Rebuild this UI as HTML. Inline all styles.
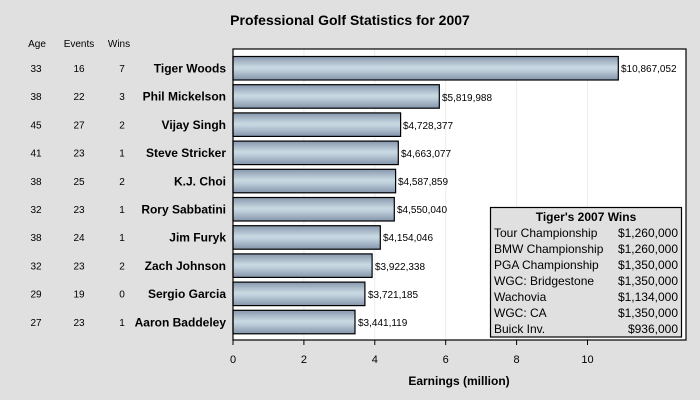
<!DOCTYPE html>
<html><head><meta charset="utf-8"><style>
html,body{margin:0;padding:0;background:#e0e0e0;}
svg{display:block;font-family:"Liberation Sans",Arial,sans-serif;}
</style></head><body>
<svg width="700" height="400" viewBox="0 0 700 400" xmlns="http://www.w3.org/2000/svg">
<defs>
<linearGradient id="g" x1="0" y1="0" x2="0" y2="1">
<stop offset="0" stop-color="#8797ad"/>
<stop offset="0.45" stop-color="#c9d9e2"/>
<stop offset="0.55" stop-color="#c3d3de"/>
<stop offset="1" stop-color="#8595ab"/>
</linearGradient>
</defs>
<rect width="700" height="400" fill="#e0e0e0"/>
<text x="350" y="25" text-anchor="middle" font-size="14" font-weight="bold">Professional Golf Statistics for 2007</text>
<rect x="233" y="49" width="453" height="291" fill="#ffffff"/>
<g stroke="#ececec" stroke-width="1">
<line x1="303.9" y1="49" x2="303.9" y2="340"/><line x1="374.8" y1="49" x2="374.8" y2="340"/>
<line x1="445.7" y1="49" x2="445.7" y2="340"/><line x1="516.6" y1="49" x2="516.6" y2="340"/>
<line x1="587.5" y1="49" x2="587.5" y2="340"/>
</g>
<g font-size="10" fill="#000">
<text x="37" y="47" text-anchor="middle">Age</text>
<text x="79" y="47" text-anchor="middle">Events</text>
<text x="119" y="47" text-anchor="middle">Wins</text>
</g>
<g id="bars" stroke="#000" stroke-width="1.2" fill="url(#g)">
<rect x="233" y="56.5" width="385.3" height="23.5"/>
<rect x="233" y="84.7" width="206.3" height="23.5"/>
<rect x="233" y="112.9" width="167.6" height="23.5"/>
<rect x="233" y="141.1" width="165.3" height="23.5"/>
<rect x="233" y="169.3" width="162.6" height="23.5"/>
<rect x="233" y="197.5" width="161.3" height="23.5"/>
<rect x="233" y="225.7" width="147.3" height="23.5"/>
<rect x="233" y="253.9" width="139.1" height="23.5"/>
<rect x="233" y="282.1" width="131.9" height="23.5"/>
<rect x="233" y="310.3" width="122.0" height="23.5"/>
</g>
<g font-size="10">
<text x="621" y="72">$10,867,052</text>
<text x="442" y="101">$5,819,988</text>
<text x="403" y="129">$4,728,377</text>
<text x="401" y="157">$4,663,077</text>
<text x="398" y="185">$4,587,859</text>
<text x="397" y="213">$4,550,040</text>
<text x="383" y="241">$4,154,046</text>
<text x="375" y="270">$3,922,338</text>
<text x="368" y="298">$3,721,185</text>
<text x="358" y="326">$3,441,119</text>
</g>
<g font-size="12" font-weight="bold" text-anchor="end">
<text x="226" y="72.5">Tiger Woods</text>
<text x="226" y="100.7">Phil Mickelson</text>
<text x="226" y="128.9">Vijay Singh</text>
<text x="226" y="157.1">Steve Stricker</text>
<text x="226" y="185.3">K.J. Choi</text>
<text x="226" y="213.5">Rory Sabbatini</text>
<text x="226" y="241.7">Jim Furyk</text>
<text x="226" y="269.9">Zach Johnson</text>
<text x="226" y="298.1">Sergio Garcia</text>
<text x="226" y="326.3">Aaron Baddeley</text>
</g>
<g font-size="10" text-anchor="middle">
<text x="36" y="72">33</text><text x="79" y="72">16</text><text x="122" y="72">7</text>
<text x="36" y="100.2">38</text><text x="79" y="100.2">22</text><text x="122" y="100.2">3</text>
<text x="36" y="128.4">45</text><text x="79" y="128.4">27</text><text x="122" y="128.4">2</text>
<text x="36" y="156.6">41</text><text x="79" y="156.6">23</text><text x="122" y="156.6">1</text>
<text x="36" y="184.8">38</text><text x="79" y="184.8">25</text><text x="122" y="184.8">2</text>
<text x="36" y="213">32</text><text x="79" y="213">23</text><text x="122" y="213">1</text>
<text x="36" y="241.2">38</text><text x="79" y="241.2">24</text><text x="122" y="241.2">1</text>
<text x="36" y="269.4">32</text><text x="79" y="269.4">23</text><text x="122" y="269.4">2</text>
<text x="36" y="297.6">29</text><text x="79" y="297.6">19</text><text x="122" y="297.6">0</text>
<text x="36" y="325.8">27</text><text x="79" y="325.8">23</text><text x="122" y="325.8">1</text>
</g>
<rect x="233" y="49" width="453" height="291" fill="none" stroke="#000" stroke-width="1.2"/>
<g stroke="#000" stroke-width="1">
<line x1="233" y1="340" x2="233" y2="345"/><line x1="303.9" y1="340" x2="303.9" y2="345"/>
<line x1="374.8" y1="340" x2="374.8" y2="345"/><line x1="445.7" y1="340" x2="445.7" y2="345"/>
<line x1="516.6" y1="340" x2="516.6" y2="345"/><line x1="587.5" y1="340" x2="587.5" y2="345"/>
</g>
<g font-size="11" text-anchor="middle">
<text x="233" y="363">0</text><text x="303.9" y="363">2</text><text x="374.8" y="363">4</text>
<text x="445.7" y="363">6</text><text x="516.6" y="363">8</text><text x="587.5" y="363">10</text>
</g>
<text x="459" y="385" text-anchor="middle" font-size="12" font-weight="bold">Earnings (million)</text>
<rect x="490.5" y="207.5" width="191" height="129.5" fill="#e0e0e0" stroke="#000" stroke-width="1.2"/>
<text x="586" y="221" text-anchor="middle" font-size="12" font-weight="bold">Tiger's 2007 Wins</text>
<g font-size="12">
<text x="494" y="237">Tour Championship</text>
<text x="494" y="253">BMW Championship</text>
<text x="494" y="269">PGA Championship</text>
<text x="494" y="285">WGC: Bridgestone</text>
<text x="494" y="301">Wachovia</text>
<text x="494" y="317">WGC: CA</text>
<text x="494" y="333">Buick Inv.</text>
</g>
<g font-size="12" text-anchor="end">
<text x="678" y="237">$1,260,000</text>
<text x="678" y="253">$1,260,000</text>
<text x="678" y="269">$1,350,000</text>
<text x="678" y="285">$1,350,000</text>
<text x="678" y="301">$1,134,000</text>
<text x="678" y="317">$1,350,000</text>
<text x="678" y="333">$936,000</text>
</g>
</svg>
</body></html>
